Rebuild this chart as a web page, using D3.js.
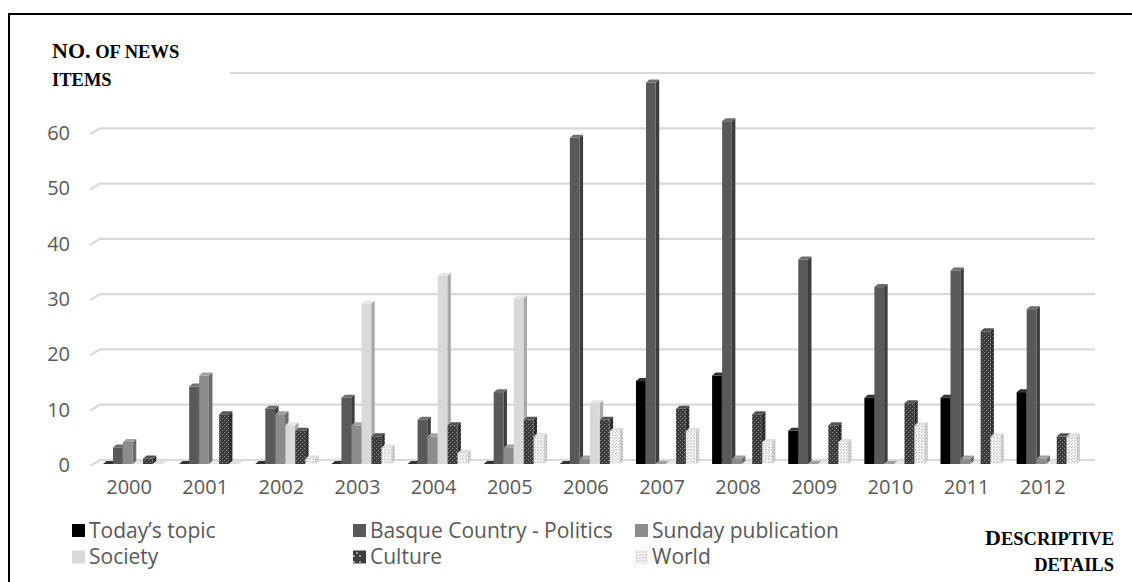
<!DOCTYPE html>
<html><head><meta charset="utf-8">
<script src="https://cdn.jsdelivr.net/npm/d3@7"></script>
<style>body{margin:0;background:#fff}</style>
</head><body>
<svg id="c" width="1132" height="582"></svg>
<script>
const years = ["2000","2001","2002","2003","2004","2005","2006","2007","2008","2009","2010","2011","2012"];
const seriesNames = ["Today\u2019s topic","Basque Country - Politics","Sunday publication","Society","Culture","World"];
const todayTopic = [0,0,0,0,0,0,0,15,16,6,12,12,13];
const basquePolitics = [3,14,10,12,8,13,59,69,62,37,32,35,28];
const sundayPublication = [4,16,9,7,5,3,1,0,1,0,0,1,1];
const society = [0,0,7,29,34,30,11,0,0,0,0,0,0];
const culture = [1,9,6,5,7,8,8,10,9,7,11,24,5];
const world = [0,0,1,3,2,5,6,6,4,4,7,5,5];
const yTicks = [0,10,20,30,40,50,60,70];
const yLabelTicks = [0,10,20,30,40,50,60];

const seriesValues = [todayTopic, basquePolitics, sundayPublication, society, culture, world];

const svg = d3.select("#c");
const defs = svg.append("defs");
// patterns
const pc = defs.append("pattern").attr("id","pCulture").attr("width",4).attr("height",4).attr("patternUnits","userSpaceOnUse");
pc.append("rect").attr("width",4).attr("height",4).attr("fill","#3c3c3c");
pc.append("rect").attr("x",0).attr("y",0).attr("width",1).attr("height",1).attr("fill","#8a8a8a");
pc.append("rect").attr("x",2).attr("y",2).attr("width",1).attr("height",1).attr("fill","#8a8a8a");
const pcs = defs.append("pattern").attr("id","pCultureSide").attr("width",4).attr("height",4).attr("patternUnits","userSpaceOnUse");
pcs.append("rect").attr("width",4).attr("height",4).attr("fill","#2a2a2a");
pcs.append("rect").attr("x",0).attr("y",0).attr("width",1).attr("height",1).attr("fill","#666");
pcs.append("rect").attr("x",2).attr("y",2).attr("width",1).attr("height",1).attr("fill","#666");
const pl = defs.append("pattern").attr("id","pCultureLegend").attr("width",13).attr("height",13).attr("patternUnits","userSpaceOnUse");
pl.append("rect").attr("width",13).attr("height",13).attr("fill","#3c3c3c");
[[2,2],[8,2],[5,6],[2,9],[8,9]].forEach(([a,b]) => pl.append("rect").attr("x",a).attr("y",b).attr("width",2).attr("height",2).attr("fill","#9a9a9a"));
const pw = defs.append("pattern").attr("id","pWorld").attr("width",3).attr("height",3).attr("patternUnits","userSpaceOnUse");
pw.append("rect").attr("width",3).attr("height",3).attr("fill","#f2f2f2");
pw.append("rect").attr("x",0).attr("y",0).attr("width",1).attr("height",1).attr("fill","#c4c4c4");
pw.append("rect").attr("x",1).attr("y",2).attr("width",1).attr("height",1).attr("fill","#c4c4c4");
const pws = defs.append("pattern").attr("id","pWorldSide").attr("width",3).attr("height",3).attr("patternUnits","userSpaceOnUse");
pws.append("rect").attr("width",3).attr("height",3).attr("fill","#cfcfcf");
pws.append("rect").attr("x",0).attr("y",0).attr("width",1).attr("height",1).attr("fill","#a8a8a8");

const styles = [
  {front:"#000000", side:"#1a1a1a", top:"#333333", legend:"#000000"},
  {front:"#595959", side:"#3d3d3d", top:"#6e6e6e", legend:"#595959"},
  {front:"#8c8c8c", side:"#6b6b6b", top:"#a0a0a0", legend:"#8c8c8c"},
  {front:"#d9d9d9", side:"#a8a8a8", top:"#e6e6e6", legend:"#d9d9d9"},
  {front:"url(#pCulture)", side:"url(#pCultureSide)", top:"#555555", legend:"url(#pCultureLegend)"},
  {front:"url(#pWorld)", side:"url(#pWorldSide)", top:"#e0e0e0", legend:"url(#pWorld)"}
];

// border
svg.append("rect").attr("x",9).attr("y",14).attr("width",1130).attr("height",580)
  .attr("fill","#fff").attr("stroke","#000").attr("stroke-width",2);

const y = d3.scaleLinear().domain([0,70]).range([464,77]);
const x0 = d3.scaleBand().domain(years).range([88,1077.8]).paddingInner(0.21).paddingOuter(0.105);
const x1 = d3.scaleBand().domain(d3.range(seriesNames.length)).range([0,x0.bandwidth()]);

const backDy = 4, wallLeft = 100, wallRight = 1095, frontLeft = 90;
// gridlines (back wall + left diagonal)
const grid = svg.append("g");
yTicks.forEach(v => {
  const gy = y(v) - backDy;
  grid.append("path")
    .attr("d", `M${frontLeft},${gy+6}L${wallLeft},${gy}L${wallRight},${gy}`)
    .attr("fill","none").attr("stroke","#d9d9d9").attr("stroke-width",2.2);
});

// bars
const dx = 3.5, dy = 3, shift = 7;
const gBars = svg.append("g");
years.forEach((yr, i) => {
  seriesValues.forEach((vals, s) => {
    const v = vals[i];
    const xl = x0(yr) + x1(s) + shift;
    const w = x1.bandwidth() - 0.3;
    const yt = y(v), yb = y(0);
    const st = styles[s];
    gBars.append("path")
      .attr("d", `M${xl+w},${yt}L${xl+w+dx},${yt-dy}L${xl+w+dx},${yb-dy}L${xl+w},${yb}Z`)
      .attr("fill", st.side);
    gBars.append("rect").attr("x",xl).attr("y",yt).attr("width",w).attr("height",Math.max(0,yb-yt))
      .attr("fill", st.front);
    gBars.append("path")
      .attr("d", `M${xl},${yt}L${xl+dx},${yt-dy}L${xl+w+dx},${yt-dy}L${xl+w},${yt}Z`)
      .attr("fill", st.top);
  });
});

// white box behind title (hides part of the top gridline)
svg.append("rect").attr("x",40).attr("y",28).attr("width",190).attr("height",66).attr("fill","#fff");

const fontFam = "'Open Sans', sans-serif";
// y axis labels
const yAxis = d3.axisLeft(y).tickValues(yLabelTicks).tickSize(0).tickPadding(0);
const ya = svg.append("g").attr("transform","translate(70,1)").call(yAxis);
ya.select(".domain").remove();
ya.selectAll("text").attr("font-family",fontFam).attr("font-size",20).attr("fill","#595959");

// x axis labels
const xAxis = d3.axisBottom(x0).tickSize(0).tickPadding(0);
const xa = svg.append("g").attr("transform","translate(3,480)").call(xAxis);
xa.select(".domain").remove();
xa.selectAll("text").attr("font-family",fontFam).attr("font-size",20).attr("fill","#595959");

// legend
const legendPos = [[72,530.5],[353,530.5],[635,530.5],[72,557],[353,557],[635,557]];
const lg = svg.append("g");
seriesNames.forEach((n, s) => {
  const [lx, ly] = legendPos[s];
  lg.append("rect").attr("x",lx).attr("y",ly-6.5).attr("width",13).attr("height",13)
    .attr("fill", styles[s].legend);
  lg.append("text").attr("x",lx+17).attr("y",ly).attr("dy","0.35em")
    .attr("font-family",fontFam).attr("font-size",21).attr("fill","#595959").text(n);
});

// titles (small caps, serif bold)
function smallCaps(xp, yp, big, small, anchor) {
  const t = svg.append("text").attr("x",xp).attr("y",yp).attr("text-anchor",anchor)
    .attr("font-family","'Liberation Serif', 'Times New Roman', serif").attr("font-weight","bold").attr("fill","#000");
  if (big) t.append("tspan").attr("font-size",22).text(big);
  t.append("tspan").attr("font-size",18.5).text(small);
}
smallCaps(52, 58, "NO.", " OF NEWS", "start");
smallCaps(52, 86, "", "ITEMS", "start");
smallCaps(1114, 545, "D", "ESCRIPTIVE", "end");
smallCaps(1114, 571, "", "DETAILS", "end");
</script>
</body></html>
